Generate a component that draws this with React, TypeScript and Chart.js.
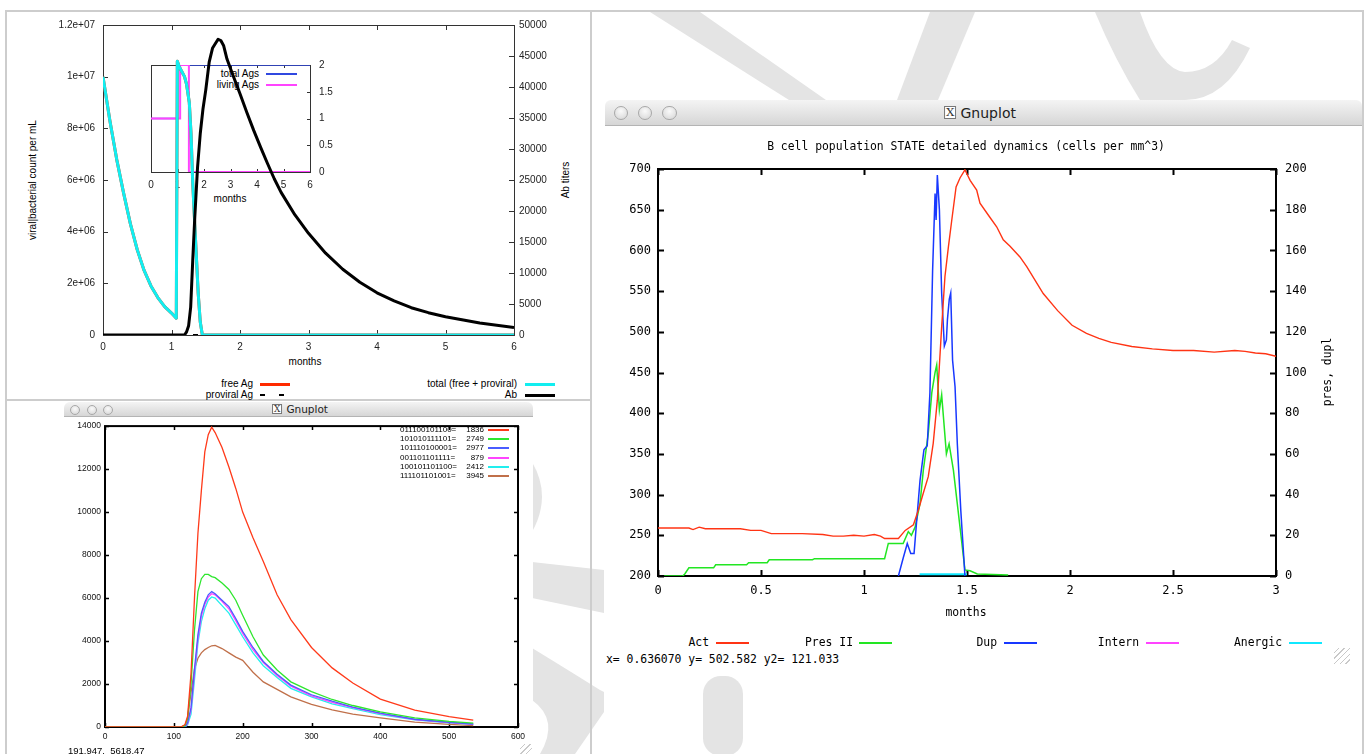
import React, { useEffect, useRef } from 'react';
import { Chart, registerables } from 'chart.js';

Chart.register(...registerables);

// ================= DATA =================
// --- Top-left: viral/bacterial count & Ab titers (months) ---
const totalX = [0, 0.1, 0.2, 0.3, 0.4, 0.5, 0.6, 0.7, 0.8, 0.9, 1.0, 1.07, 1.085, 1.11, 1.15, 1.19, 1.22, 1.26, 1.285, 1.31, 1.33, 1.36, 1.39, 1.42, 1.45, 6];
const totalY = [1.0e7, 8.3e6, 6.8e6, 5.5e6, 4.3e6, 3.3e6, 2.5e6, 1.9e6, 1.45e6, 1.1e6, 0.85e6, 0.65e6, 1.06e7, 1.04e7, 1.02e7, 1.0e7, 9.7e6, 9.0e6, 7.8e6, 5.9e6, 4.8e6, 3.2e6, 1.6e6, 0.5e6, 0, 0];
const freeAgX = [0, 0.1, 0.2, 0.3, 0.4, 0.5, 0.6, 0.7, 0.8, 0.9, 1.0, 1.07, 1.085, 1.11, 1.15, 1.19, 1.22, 1.26, 1.285, 1.31, 1.33, 1.36, 1.39, 1.42, 1.45, 6];
const freeAgY = [1.0e7, 8.3e6, 6.8e6, 5.5e6, 4.3e6, 3.3e6, 2.5e6, 1.9e6, 1.45e6, 1.1e6, 0.85e6, 0.65e6, 1.06e7, 1.04e7, 1.02e7, 1.0e7, 9.7e6, 9.0e6, 7.8e6, 5.9e6, 4.8e6, 3.2e6, 1.6e6, 0.5e6, 0, 0];
const proviralX = [0, 6];
const proviralY = [0, 0];
const abX = [0, 1.19, 1.22, 1.25, 1.28, 1.31, 1.34, 1.38, 1.42, 1.46, 1.5, 1.55, 1.6, 1.68, 1.72, 1.76, 1.81, 1.9, 2.0, 2.1, 2.2, 2.3, 2.4, 2.5, 2.6, 2.8, 3.0, 3.25, 3.5, 3.75, 4.0, 4.25, 4.5, 4.75, 5.0, 5.5, 6.0];
const abY = [0, 0, 500, 1500, 4500, 12000, 19000, 27000, 32500, 36500, 39500, 44000, 46300, 47700, 47500, 46700, 44500, 41800, 38900, 35900, 33000, 30300, 27700, 25200, 23000, 19400, 16400, 13200, 10600, 8500, 6800, 5500, 4400, 3600, 2950, 1950, 1200];

// --- inset: number of antigens ---
const totalAgsX = [0, 1.0, 1.0, 6];
const totalAgsY = [1, 1, 2, 2];
const livingAgsX = [0, 1.1, 1.1, 1.43, 1.43, 6];
const livingAgsY = [1, 1, 2, 2, 0, 0];

// --- Bottom-left: clone sizes over time ---
const blX = [0, 110, 116, 120, 125, 130, 135, 140, 145, 150, 155, 160, 170, 180, 190, 200, 215, 230, 250, 270, 300, 330, 360, 400, 450, 500, 535];
const clone1836 = [0, 0, 100, 500, 2500, 6000, 9000, 11000, 12800, 13600, 13950, 13700, 13000, 12100, 11100, 10000, 8800, 7700, 6150, 5000, 3700, 2750, 2050, 1300, 780, 480, 320];
const clone2749 = [0, 0, 50, 400, 2000, 4500, 6300, 6900, 7100, 7100, 7000, 6950, 6700, 6400, 5900, 5200, 4200, 3350, 2650, 2100, 1650, 1280, 1000, 700, 420, 260, 180];
const clone2977 = [0, 0, 0, 200, 900, 2700, 4300, 5300, 5800, 6150, 6300, 6200, 5900, 5600, 5050, 4450, 3700, 3050, 2450, 1950, 1500, 1200, 930, 650, 360, 220, 140];
const clone879 = [0, 0, 0, 150, 800, 2500, 4100, 5150, 5700, 6050, 6200, 6150, 5850, 5500, 4950, 4350, 3600, 3000, 2400, 1900, 1450, 1150, 900, 620, 340, 200, 120];
const clone2412 = [0, 0, 0, 100, 600, 2200, 3900, 4900, 5500, 5900, 6050, 6000, 5650, 5300, 4750, 4200, 3450, 2850, 2300, 1800, 1400, 1080, 850, 580, 330, 190, 120];
const clone3945 = [0, 0, 50, 400, 1600, 2700, 3200, 3450, 3600, 3700, 3780, 3800, 3650, 3450, 3250, 3100, 2550, 2100, 1750, 1400, 1050, 800, 600, 420, 230, 120, 60];
const cloneCodes = ['011100101100=', '101010111101=', '101110100001=', '001101101111=', '100101101100=', '111101101001='];
const cloneCounts = ['1836', '2749', '2977', '879', '2412', '3945'];

// --- Right: B cell population STATE ---
const actX = [0, 0.15, 0.17, 0.2, 0.23, 0.4, 0.45, 0.5, 0.55, 0.7, 0.8, 0.85, 0.9, 0.95, 1.0, 1.05, 1.08, 1.1, 1.167, 1.2, 1.24, 1.264, 1.288, 1.312, 1.336, 1.356, 1.377, 1.393, 1.41, 1.426, 1.447, 1.466, 1.49, 1.515, 1.547, 1.563, 1.61, 1.644, 1.676, 1.709, 1.757, 1.79, 1.87, 1.94, 2.01, 2.08, 2.14, 2.2, 2.3, 2.4, 2.5, 2.6, 2.7, 2.8, 2.85, 2.9, 2.95, 3.0];
const actY = [259, 259, 257, 260, 258, 258, 256, 256, 252, 252, 251, 249, 249, 250, 249, 251, 249, 246, 246, 256, 263, 281, 302, 322, 363, 416, 506, 568, 605, 637, 678, 689, 699, 686, 674, 658, 641, 629, 613, 605, 592, 580, 547, 526, 508, 498, 492, 487, 482, 479, 477, 477, 475, 477, 476, 474, 473, 470];
const presX = [0.03, 0.12, 0.13, 0.15, 0.27, 0.28, 0.43, 0.44, 0.53, 0.54, 0.75, 0.76, 1.10, 1.118, 1.19, 1.215, 1.23, 1.248, 1.272, 1.288, 1.312, 1.329, 1.345, 1.353, 1.366, 1.377, 1.40, 1.413, 1.434, 1.466, 1.49, 1.515, 1.55, 1.7];
const presY = [0, 0, 1, 4, 4, 5.5, 5.5, 6.5, 6.5, 8, 8, 8.5, 8.5, 16, 16, 21.8, 20, 24, 35.7, 52, 70, 90, 100, 103.7, 81.6, 89, 60, 65, 52, 24, 3, 2.6, 1, 0.5];
const dupX = [1.167, 1.19, 1.21, 1.227, 1.243, 1.256, 1.272, 1.291, 1.307, 1.32, 1.333, 1.345, 1.35, 1.356, 1.366, 1.377, 1.39, 1.40, 1.405, 1.414, 1.421, 1.43, 1.442, 1.453, 1.47, 1.482, 1.49];
const dupY = [0, 8.7, 16, 11, 11, 27.5, 47, 62, 64, 90, 150, 188, 175, 197, 180, 139, 113, 116, 126, 136, 139, 106, 93, 65, 32, 13, 0];
const internX: number[] = [];
const internY: number[] = [];
const anergicX = [1.27, 1.5];
const anergicY = [0.8, 0.8];

// ================= HELPERS =================
const SANS = '"Liberation Sans", Arial, sans-serif';
const MONO = '"DejaVu Sans Mono", monospace';

const pts = (xs: number[], ys: number[]) => xs.map((x, i) => ({ x, y: ys[i] }));
const expFmt = (v: number) => (v === 0 ? '0' : v.toExponential().replace(/e\+(\d)$/, 'e+0$1'));

const framePlugin = {
  id: 'gframe',
  beforeDatasetsDraw(chart: any, _a: any, o: any) {
    if (!o || !o.on) return;
    const { ctx, chartArea: a, scales } = chart;
    ctx.save();
    ctx.strokeStyle = o.color;
    ctx.lineWidth = o.tickWidth;
    ctx.beginPath();
    const L = o.len;
    const x = scales.x;
    if (x) {
      for (const t of x.ticks) {
        const p = Math.round(x.getPixelForValue(t.value)) + 0.5;
        ctx.moveTo(p, a.bottom); ctx.lineTo(p, a.bottom - L);
        ctx.moveTo(p, a.top); ctx.lineTo(p, a.top + L);
      }
    }
    const y = scales.y;
    if (y && o.left) {
      for (const t of y.ticks) {
        const p = Math.round(y.getPixelForValue(t.value)) + 0.5;
        if (y.position === 'left') { ctx.moveTo(a.left, p); ctx.lineTo(a.left + L, p); }
        if (o.mirrorY || y.position === 'right') { ctx.moveTo(a.right, p); ctx.lineTo(a.right - L, p); }
      }
    }
    const y2 = scales.y2;
    if (y2) {
      for (const t of y2.ticks) {
        const p = Math.round(y2.getPixelForValue(t.value)) + 0.5;
        ctx.moveTo(a.right, p); ctx.lineTo(a.right - L, p);
      }
    }
    ctx.stroke();
    ctx.lineWidth = o.frameWidth;
    const h = o.frameWidth % 2 === 1 ? 0.5 : 0;
    ctx.strokeRect(a.left + h, a.top + h, a.right - a.left, a.bottom - a.top);
    ctx.restore();
  },
};

function fixedW(w: number) { return (s: any) => { s.width = w; }; }
function fixedH(h: number) { return (s: any) => { s.height = h; }; }

function tickCfg(font: any, padding: number, step: number, color: string, cb?: (v: number) => string) {
  return {
    stepSize: step, autoSkip: false, maxRotation: 0, padding, color, font,
    callback: (v: any) => (cb ? cb(Number(v)) : String(Number(v))),
  };
}

function useChart(ref: React.RefObject<HTMLCanvasElement>, make: () => any) {
  useEffect(() => {
    if (!ref.current) return;
    const c = new Chart(ref.current, make());
    return () => c.destroy();
  }, []);
}

const noGrid = { display: false, drawTicks: false };
const noBorder = { display: false };

function Txt(p: { x: number; y: number; t: string; align?: 'l' | 'c' | 'r'; size?: number; family?: string; color?: string; rot?: number; }) {
  const tx = p.align === 'c' ? '-50%' : p.align === 'r' ? '-100%' : '0';
  return (
    <div style={{
      position: 'absolute', left: p.x, top: p.y, transform: `translate(${tx},-50%)${p.rot ? ` rotate(${p.rot}deg)` : ''}`,
      fontFamily: p.family || SANS, fontSize: p.size || 10, color: p.color || '#000', whiteSpace: 'pre', lineHeight: 1,
    }}>{p.t}</div>
  );
}

function Box(p: { x: number; y: number; w: number; h: number; bg: string; style?: any }) {
  return <div style={{ position: 'absolute', left: p.x, top: p.y, width: p.w, height: p.h, background: p.bg, ...(p.style || {}) }} />;
}

function TitleBar(p: { x: number; y: number; w: number; h: number; r: number; size: number; cx: number }) {
  const btns = [0, 1, 2].map((i) => (
    <div key={i} style={{
      position: 'absolute', left: p.r * 1.2 + i * p.r * 3.3, top: p.h / 2 - p.r, width: p.r * 2, height: p.r * 2, borderRadius: '50%',
      background: 'radial-gradient(circle at 50% 35%, #fafafa, #d4d4d4)', border: '1px solid #a8a8a8', boxSizing: 'border-box',
    }} />
  ));
  return (
    <div style={{
      position: 'absolute', left: p.x, top: p.y, width: p.w, height: p.h, boxSizing: 'border-box',
      background: 'linear-gradient(#f4f4f4, #e2e2e2 60%, #d6d6d6)', borderBottom: '1px solid #b4b4b4',
      borderTopLeftRadius: 6, borderTopRightRadius: 6,
    }}>
      {btns}
      <div style={{ position: 'absolute', left: p.cx - p.x, top: '50%', transform: 'translate(-50%,-50%)', display: 'flex', alignItems: 'center', gap: 4, whiteSpace: 'nowrap' }}>
        <span style={{ display: 'inline-block', border: '1px solid #777', background: '#fff', fontFamily: '"DejaVu Serif", serif', fontSize: p.size * 0.85, lineHeight: 1, padding: '0 1px', color: '#333' }}>X</span>
        <span style={{ fontFamily: '"DejaVu Sans", sans-serif', fontSize: p.size, color: '#222' }}>Gnuplot</span>
      </div>
    </div>
  );
}

// ================= CHARTS =================
function TopLeftMain() {
  const ref = useRef<HTMLCanvasElement>(null);
  useChart(ref, () => {
    const f = { family: SANS, size: 10 };
    return {
      type: 'line',
      data: {
        datasets: [
          { label: 'Ab', data: pts(abX, abY), yAxisID: 'y2', borderColor: '#000', borderWidth: 3 },
          { label: 'total (free + proviral)', data: pts(totalX, totalY), yAxisID: 'y', borderColor: '#12eef0', borderWidth: 3 },
          { label: 'proviral Ag', data: pts(proviralX, proviralY), yAxisID: 'y', borderColor: '#000', borderWidth: 2, borderDash: [5, 13] },
          { label: 'free Ag', data: pts(freeAgX, freeAgY), yAxisID: 'y', borderColor: '#ff2a00', borderWidth: 3 },
        ],
      },
      options: {
        responsive: false, animation: false,
        layout: { padding: { top: 13, left: 0, right: 0, bottom: 0 } },
        elements: { point: { radius: 0 }, line: { tension: 0, borderJoinStyle: 'round', borderCapStyle: 'butt' } },
        plugins: { legend: { display: false }, tooltip: { enabled: false }, gframe: { on: true, color: '#333', tickWidth: 1, frameWidth: 1, len: 5, left: true } },
        scales: {
          x: { type: 'linear', min: 0, max: 6, ticks: tickCfg(f, 6, 1, '#222'), grid: noGrid, border: noBorder, afterFit: fixedH(65) },
          y: { type: 'linear', position: 'left', min: 0, max: 1.2e7, ticks: tickCfg(f, 8, 2e6, '#222', expFmt), grid: noGrid, border: noBorder, afterFit: fixedW(97) },
          y2: { type: 'linear', position: 'right', min: 0, max: 50000, ticks: tickCfg(f, 5, 5000, '#222'), grid: noGrid, border: noBorder, afterFit: fixedW(77) },
        },
      },
      plugins: [framePlugin],
    };
  });
  return <canvas ref={ref} width={585} height={389} style={{ position: 'absolute', left: 6, top: 11, zIndex: 2 }} />;
}

function TopLeftInset() {
  const ref = useRef<HTMLCanvasElement>(null);
  useChart(ref, () => {
    const f = { family: SANS, size: 10 };
    return {
      type: 'line',
      data: {
        datasets: [
          { label: 'living Ags', data: pts(livingAgsX, livingAgsY), borderColor: '#ff44ff', borderWidth: 2 },
          { label: 'total Ags', data: pts(totalAgsX, totalAgsY), borderColor: '#3048e0', borderWidth: 1.5 },
        ],
      },
      options: {
        responsive: false, animation: false,
        layout: { padding: { top: 12, left: 11, right: 0, bottom: 0 } },
        elements: { point: { radius: 0 }, line: { tension: 0 } },
        plugins: { legend: { display: false }, tooltip: { enabled: false }, gframe: { on: true, color: '#333', tickWidth: 1, frameWidth: 1, len: 3, left: true } },
        scales: {
          x: { type: 'linear', min: 0, max: 6, ticks: tickCfg(f, 7, 1, '#222'), grid: noGrid, border: noBorder, afterFit: fixedH(38) },
          y: { type: 'linear', position: 'right', min: 0, max: 2, ticks: tickCfg(f, 9, 0.5, '#222'), grid: noGrid, border: noBorder, afterFit: fixedW(30) },
        },
      },
      plugins: [framePlugin],
    };
  });
  return <canvas ref={ref} width={200} height={160} style={{ position: 'absolute', left: 140, top: 50, zIndex: 1 }} />;
}

function BottomLeft() {
  const ref = useRef<HTMLCanvasElement>(null);
  useChart(ref, () => {
    const f = { family: SANS, size: 8.5 };
    const mk = (label: string, ys: number[], c: string) => ({ label, data: pts(blX, ys), borderColor: c, borderWidth: 1.3 });
    return {
      type: 'line',
      data: {
        datasets: [
          mk(cloneCodes[0], clone1836, '#ff3a1a'),
          mk(cloneCodes[1], clone2749, '#2ee62e'),
          mk(cloneCodes[2], clone2977, '#4a5cff'),
          mk(cloneCodes[3], clone879, '#ff44ff'),
          mk(cloneCodes[4], clone2412, '#22eeee'),
          mk(cloneCodes[5], clone3945, '#c0704a'),
        ],
      },
      options: {
        responsive: false, animation: false,
        layout: { padding: { top: 6, left: 0, right: 14, bottom: 0 } },
        elements: { point: { radius: 0 }, line: { tension: 0 } },
        plugins: { legend: { display: false }, tooltip: { enabled: false }, gframe: { on: true, color: '#000', tickWidth: 1.5, frameWidth: 2, len: 4, left: true, mirrorY: true } },
        scales: {
          x: { type: 'linear', min: 0, max: 600, ticks: tickCfg(f, 5, 100, '#111'), grid: noGrid, border: noBorder, afterFit: fixedH(27) },
          y: { type: 'linear', position: 'left', min: 0, max: 14000, ticks: tickCfg(f, 4, 2000, '#111'), grid: noGrid, border: noBorder, afterFit: fixedW(41) },
        },
      },
      plugins: [framePlugin],
    };
  });
  return <canvas ref={ref} width={468} height={337} style={{ position: 'absolute', left: 64, top: 417 }} />;
}

function RightChart() {
  const ref = useRef<HTMLCanvasElement>(null);
  useChart(ref, () => {
    const f = { family: MONO, size: 12 };
    return {
      type: 'line',
      data: {
        datasets: [
          { label: 'Act', data: pts(actX, actY), yAxisID: 'y', borderColor: '#ff3414', borderWidth: 1.4 },
          { label: 'Dup', data: pts(dupX, dupY), yAxisID: 'y2', borderColor: '#1838ff', borderWidth: 1.5 },
          { label: 'Pres II', data: pts(presX, presY), yAxisID: 'y2', borderColor: '#22e622', borderWidth: 1.5 },
          { label: 'Intern', data: pts(internX, internY), yAxisID: 'y2', borderColor: '#ff44ff', borderWidth: 1.4 },
          { label: 'Anergic', data: pts(anergicX, anergicY), yAxisID: 'y2', borderColor: '#10e8ff', borderWidth: 2 },
        ],
      },
      options: {
        responsive: false, animation: false,
        layout: { padding: { top: 43, left: 0, right: 0, bottom: 0 } },
        elements: { point: { radius: 0 }, line: { tension: 0 } },
        plugins: { legend: { display: false }, tooltip: { enabled: false }, gframe: { on: true, color: '#000', tickWidth: 2, frameWidth: 2, len: 6, left: true } },
        scales: {
          x: { type: 'linear', min: 0, max: 3, ticks: tickCfg(f, 8, 0.5, '#000'), grid: noGrid, border: noBorder, afterFit: fixedH(30) },
          y: { type: 'linear', position: 'left', min: 200, max: 700, ticks: tickCfg(f, 7, 50, '#000'), grid: noGrid, border: noBorder, afterFit: fixedW(54) },
          y2: { type: 'linear', position: 'right', min: 0, max: 200, ticks: tickCfg(f, 9, 20, '#000'), grid: noGrid, border: noBorder, afterFit: fixedW(86) },
        },
      },
      plugins: [framePlugin],
    };
  });
  return <canvas ref={ref} width={758} height={480} style={{ position: 'absolute', left: 604, top: 126 }} />;
}

// light-grey watermark shapes that sit behind the windows
function Watermark() {
  const c = '#e4e4e4';
  return (
    <svg width={1366} height={754} style={{ position: 'absolute', left: 0, top: 0 }}>
      <polygon points="650,12 700,12 826,100 789,100" fill={c} />
      <polygon points="930,12 975,12 938,100 897,100" fill={c} />
      <path d="M1095,12 L1140,12 Q1160,70 1185,72 Q1215,72 1232,40 L1250,48 Q1225,100 1185,100 L1140,100 Q1115,60 1095,12 Z" fill={c} />
      <path d="M532,462 Q552,496 532,532 Z" fill={c} />
      <polygon points="532,562 604,570 604,613 532,598" fill={c} />
      <path d="M532,648 Q560,665 600,690 L604,692 L604,712 L575,754 L540,754 Q560,720 532,700 Z" fill={c} />
      <rect x={703} y={676} width={40} height={80} rx={18} fill={c} />
    </svg>
  );
}

// ================= APP =================
export default function App() {
  const gray = '#cdcdcd';
  const blColors = ['#ff3a1a', '#2ee62e', '#4a5cff', '#ff44ff', '#22eeee', '#c0704a'];
  const blRows = [430, 439, 448, 458, 467, 476];
  const rLegend = [
    { t: 'Act', end: 709, c: '#ff3414', lx: 716 },
    { t: 'Pres II', end: 853, c: '#22e622', lx: 859 },
    { t: 'Dup', end: 997, c: '#1838ff', lx: 1004 },
    { t: 'Intern', end: 1139, c: '#ff44ff', lx: 1146 },
    { t: 'Anergic', end: 1282, c: '#10e8ff', lx: 1289 },
  ];
  return (
    <div style={{ position: 'absolute', left: 0, top: 0, width: 1366, height: 754, background: '#fff', overflow: 'hidden' }}>
      <Watermark />
      {/* page frame */}
      <Box x={5} y={10} w={1359} h={2} bg={gray} />
      <Box x={5} y={10} w={2} h={744} bg={gray} />
      <Box x={590} y={10} w={2} h={744} bg={gray} />
      <Box x={5} y={399} w={587} h={2} bg={gray} />
      <Box x={1362} y={10} w={2} h={744} bg={gray} />

      {/* top-left */}
      <Box x={7} y={12} w={583} h={387} bg="#fff" />
      <TopLeftInset />
      <TopLeftMain />
      <Txt x={33} y={180} t="viral|bacterial count per mL" align="c" rot={-90} size={10} />
      <Txt x={566} y={180} t="Ab titers" align="c" rot={-90} size={10} />
      <Txt x={305} y={362} t="months" align="c" size={10} />
      <Txt x={230} y={199} t="months" align="c" size={10} />
      <Txt x={259} y={74} t="total Ags" align="r" size={10} />
      <Box x={266} y={73} w={31} h={2} bg="#3048e0" />
      <Txt x={259} y={84.5} t="living Ags" align="r" size={10} />
      <Box x={266} y={84} w={31} h={2} bg="#ff44ff" />
      <Txt x={253} y={384} t="free Ag" align="r" size={10} />
      <Box x={260} y={383} w={30} h={3} bg="#ff2a00" />
      <Txt x={253} y={395} t="proviral Ag" align="r" size={10} />
      <Box x={260} y={394} w={5} h={2} bg="#000" />
      <Box x={279} y={394} w={5} h={2} bg="#000" />
      <Txt x={517} y={384} t="total (free + proviral)" align="r" size={10} />
      <Box x={525} y={383} w={30} h={3} bg="#12eef0" />
      <Txt x={517} y={395} t="Ab" align="r" size={10} />
      <Box x={525} y={394} w={30} h={3} bg="#000" />

      {/* bottom-left gnuplot window */}
      <Box x={64} y={402} w={469} h={352} bg="#fff" />
      <TitleBar x={64} y={402} w={469} h={15} r={5} size={10.5} cx={300} />
      <BottomLeft />
      {cloneCodes.map((c, i) => (
        <React.Fragment key={c}>
          <Txt x={400} y={blRows[i]} t={c} size={8} />
          <Txt x={484} y={blRows[i]} t={cloneCounts[i]} align="r" size={8} />
          <Box x={488} y={blRows[i] - 1} w={21} h={2} bg={blColors[i]} />
        </React.Fragment>
      ))}
      <Txt x={68} y={751} t="191.947,  5618.47" size={9.5} />

      {/* right gnuplot window */}
      <Box x={605} y={100} w={757} h={575} bg="#fff" />
      <TitleBar x={605} y={100} w={757} h={26} r={7.3} size={14} cx={980} />
      <RightChart />
      <Txt x={966} y={147} t="B cell population STATE detailed dynamics (cells per mm^3)" align="c" size={11.4} family={MONO} />
      <Txt x={966} y={613} t="months" align="c" size={11.4} family={MONO} />
      <Txt x={1328} y={372} t="pres, dupl" align="c" size={11.4} family={MONO} rot={-90} />
      {rLegend.map((l) => (
        <React.Fragment key={l.t}>
          <Txt x={l.end} y={643} t={l.t} align="r" size={11.4} family={MONO} />
          <Box x={l.lx} y={642} w={33} h={2} bg={l.c} />
        </React.Fragment>
      ))}
      <Txt x={606} y={660} t="x= 0.636070 y= 502.582 y2= 121.033" size={11.4} family={MONO} />
      <div style={{ position: 'absolute', left: 1334, top: 648, width: 16, height: 16, background: 'repeating-linear-gradient(135deg, transparent 0 3px, #bbb 3px 4px)', opacity: 0.8 }} />
      <div style={{ position: 'absolute', left: 520, top: 744, width: 12, height: 10, background: 'repeating-linear-gradient(135deg, transparent 0 3px, #bbb 3px 4px)', opacity: 0.8 }} />
    </div>
  );
}
